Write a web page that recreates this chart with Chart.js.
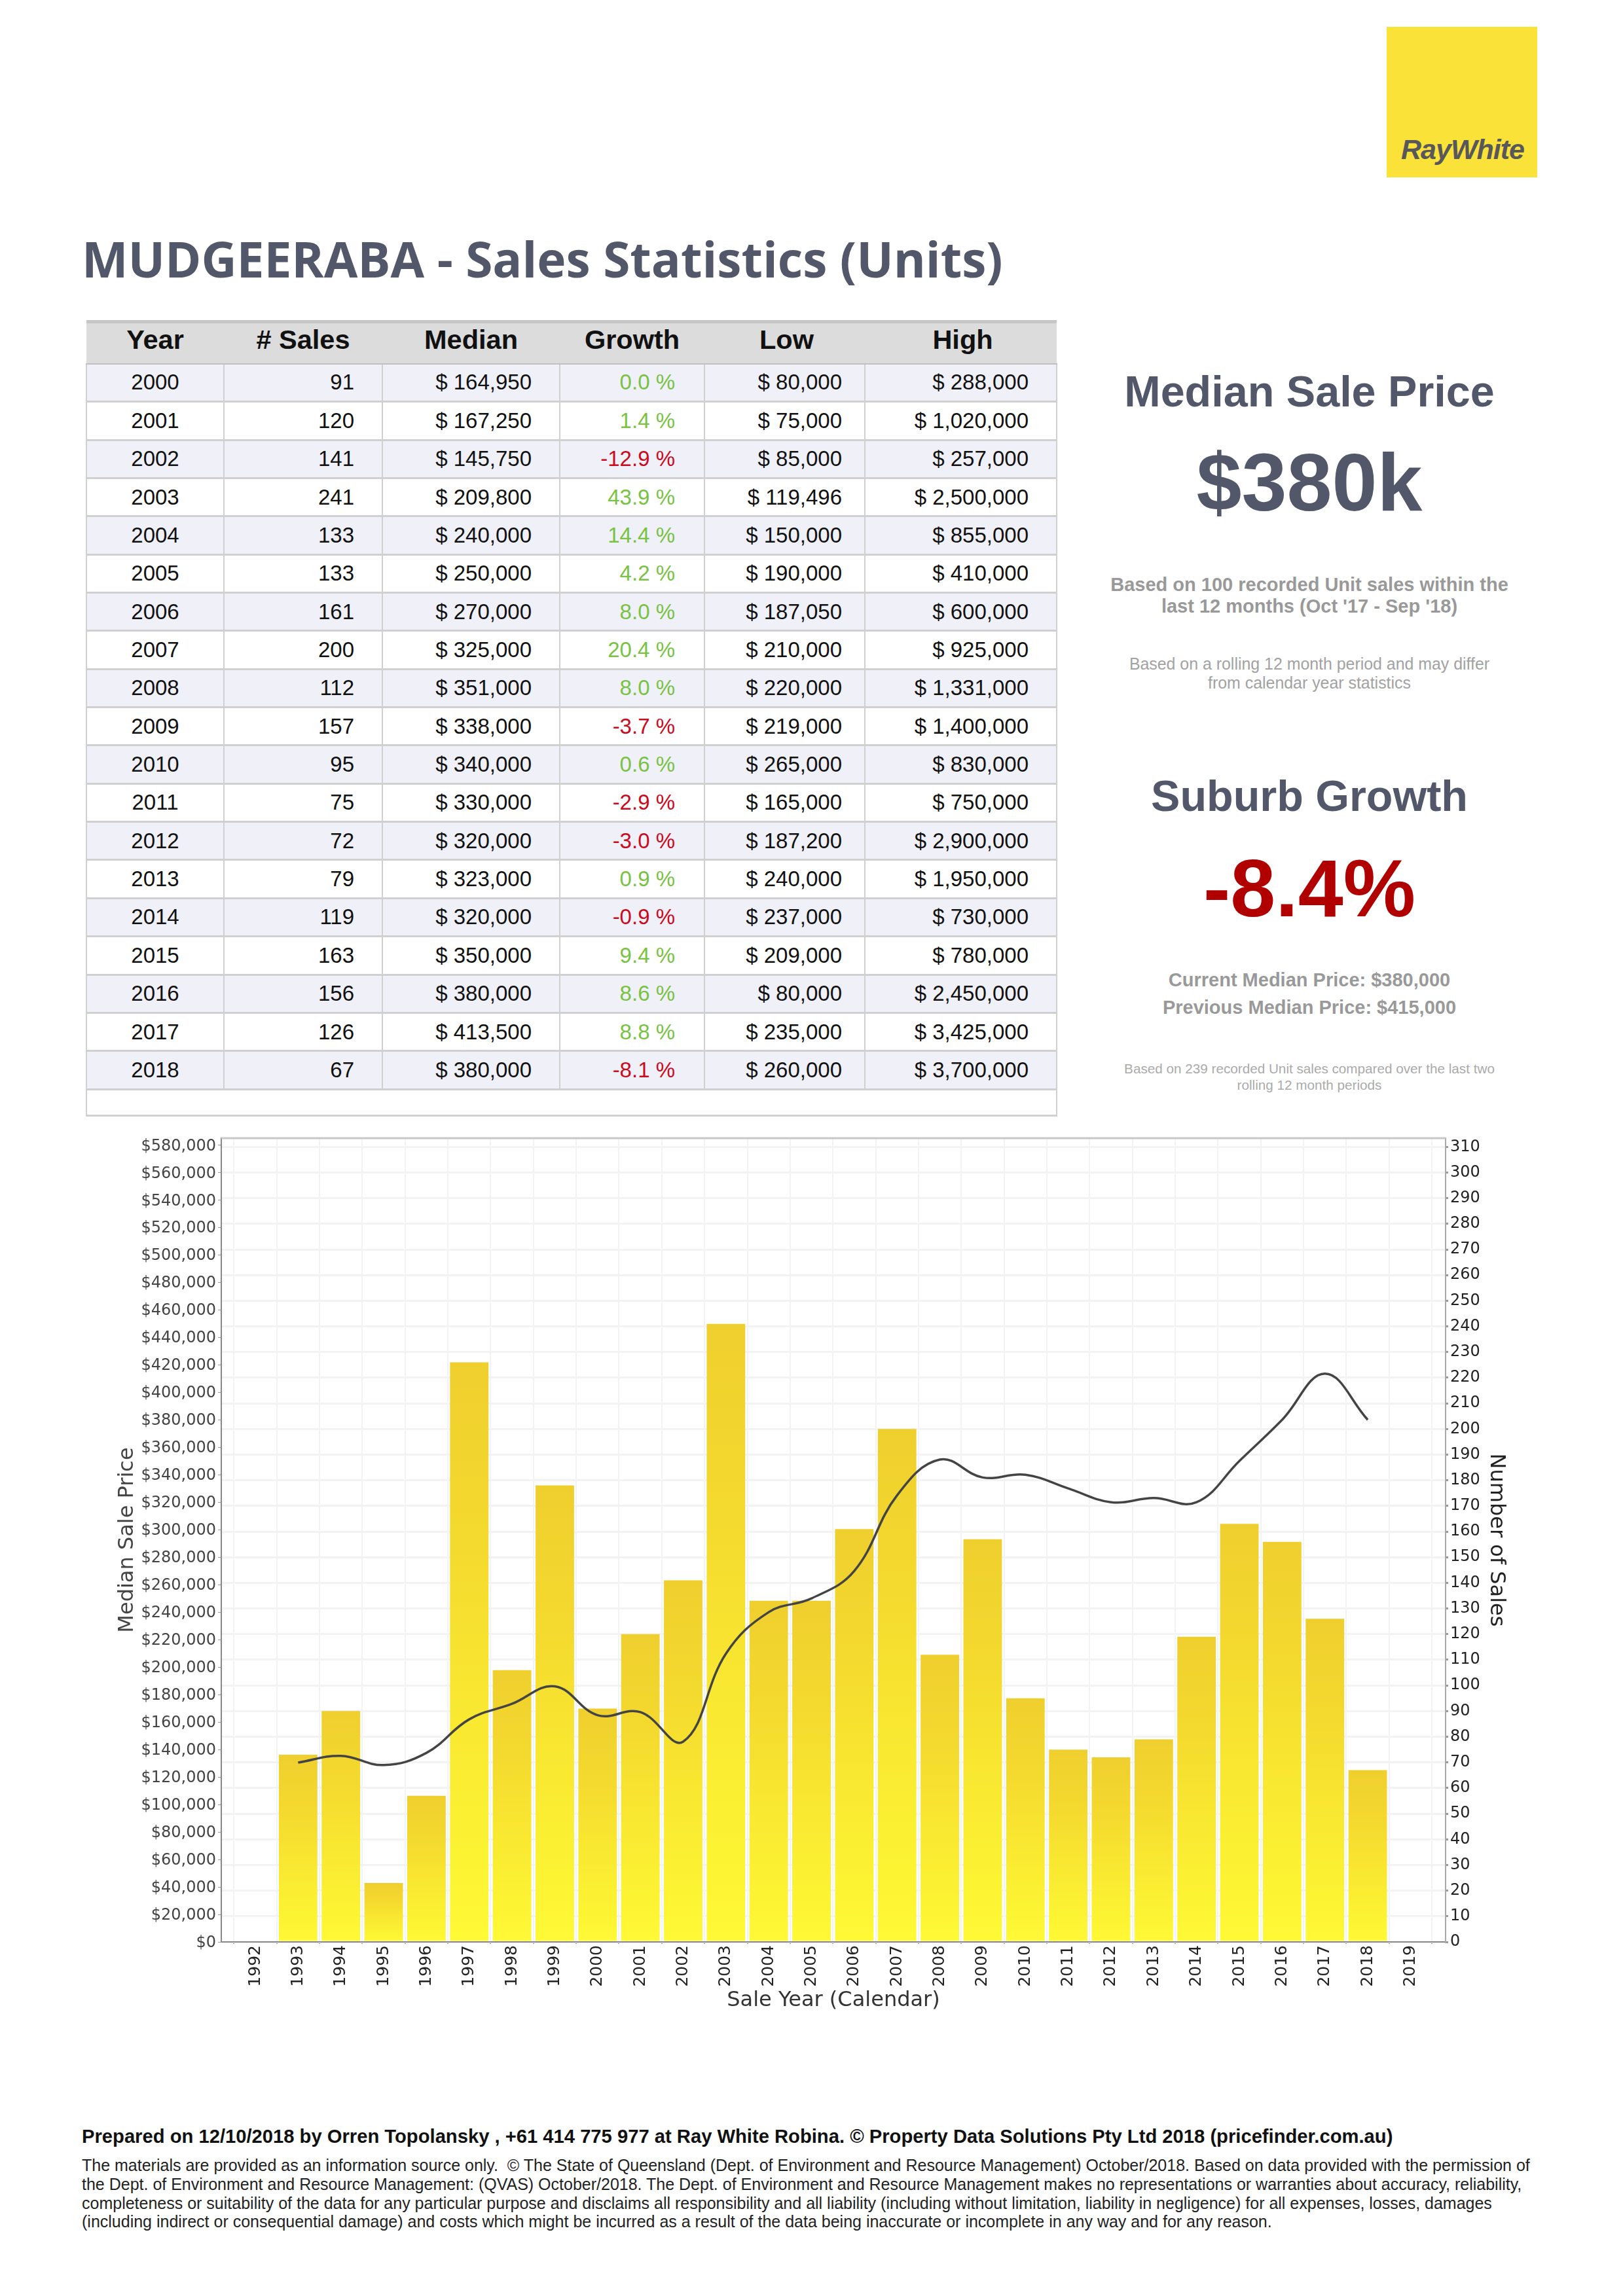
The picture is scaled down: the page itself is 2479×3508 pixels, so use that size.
<!DOCTYPE html>
<html>
<head>
<meta charset="utf-8">
<title>MUDGEERABA - Sales Statistics (Units)</title>
<script src="https://cdn.jsdelivr.net/npm/chart.js@4"></script>
<style>
  html, body { margin: 0; padding: 0; background: #fff; }
  #pagina { position: relative; width: 2479px; height: 3508px; overflow: hidden; font-family: "Liberation Sans", Arial, sans-serif; }
  .t { position: absolute; white-space: nowrap; line-height: 1; }
  .c { left: 2000px; transform: translate(-50%, -50%); }
  #logo { position: absolute; left: 2118px; top: 41px; width: 230px; height: 230px; background: #fae239; }
  #logo span { position: absolute; left: 22px; top: 163px; font: italic bold 43px "Liberation Sans"; color: #58585a; letter-spacing: -1px; white-space: nowrap; }
  #titulo { left: 125px; top: 344px; font: 700 74.8px "Open Sans"; color: #525769; }
  table { position: absolute; left: 131px; top: 489px; width: 1482px; border-collapse: collapse; table-layout: fixed; font-size: 33px; color: #111; }
  th { height: 64px; background: #dcdcdc; font-size: 41.5px; font-weight: bold; padding: 0 0 11px 0; border-top: 5px solid #c6c6c6; border-left: none; border-right: none; border-bottom: 2px solid #c0c0c0; box-sizing: border-box; }
  th.direita { padding-left: 6px; }
  td { height: 58.35px; padding: 0 42px 0 0; text-align: right; border: 2px solid #d0d0d0; border-bottom-width: 3px; box-sizing: border-box; }
  td.ano { text-align: center; padding: 0; }
  td.cresc { padding-right: 44px; }
  td.baixo { padding-right: 34px; }
  tr.par td { background: #f0f0f8; }
  tr.fim td { height: 40px; background: #fff; }
  canvas { position: absolute; left: 0; top: 1700px; }
</style>
</head>
<body>
<div id="pagina">
  <div id="logo"><span>RayWhite</span></div>
  <div class="t" id="titulo">MUDGEERABA - Sales Statistics (Units)</div>

  <table id="tabela"></table>

  <div class="t c" style="top:598px;font-size:66.5px;font-weight:bold;color:#525769">Median Sale Price</div>
  <div class="t c" style="top:737px;font-size:124px;font-weight:bold;color:#525769">$380k</div>
  <div class="t c" style="top:893px;font-size:29px;font-weight:bold;color:#999">Based on 100 recorded Unit sales within the</div>
  <div class="t c" style="top:926px;font-size:29px;font-weight:bold;color:#999">last 12 months (Oct '17 - Sep '18)</div>
  <div class="t c" style="top:1014px;font-size:24.9px;color:#a2a2a2">Based on a rolling 12 month period and may differ</div>
  <div class="t c" style="top:1043px;font-size:24.9px;color:#a2a2a2">from calendar year statistics</div>
  <div class="t c" style="top:1216px;font-size:66.5px;font-weight:bold;color:#525769">Suburb Growth</div>
  <div class="t c" style="top:1357px;font-size:124px;font-weight:bold;color:#b00000">-8.4%</div>
  <div class="t c" style="top:1497px;font-size:29px;font-weight:bold;color:#999">Current Median Price: $380,000</div>
  <div class="t c" style="top:1539px;font-size:29px;font-weight:bold;color:#999">Previous Median Price: $415,000</div>
  <div class="t c" style="top:1633px;font-size:20.7px;color:#aaa">Based on 239 recorded Unit sales compared over the last two</div>
  <div class="t c" style="top:1658px;font-size:20.7px;color:#aaa">rolling 12 month periods</div>

  <canvas id="grafico" width="2479" height="1400"></canvas>

  <div class="t" style="left:125px;top:3250px;font-size:29.2px;font-weight:bold;color:#111">Prepared on 12/10/2018 by Orren Topolansky , +61 414 775 977 at Ray White Robina. © Property Data Solutions Pty Ltd 2018 (pricefinder.com.au)</div>
  <div class="t" style="left:125px;top:3296px;font-size:25px;color:#222">The materials are provided as an information source only.&nbsp; © The State of Queensland (Dept. of Environment and Resource Management) October/2018. Based on data provided with the permission of</div>
  <div class="t" style="left:125px;top:3325px;font-size:25px;color:#222">the Dept. of Environment and Resource Management: (QVAS) October/2018. The Dept. of Environment and Resource Management makes no representations or warranties about accuracy, reliability,</div>
  <div class="t" style="left:125px;top:3354px;font-size:25px;color:#222">completeness or suitability of the data for any particular purpose and disclaims all responsibility and all liability (including without limitation, liability in negligence) for all expenses, losses, damages</div>
  <div class="t" style="left:125px;top:3382px;font-size:25px;color:#222">(including indirect or consequential damage) and costs which might be incurred as a result of the data being inaccurate or incomplete in any way and for any reason.</div>
</div>

<script>
// tabela
let anosTabela = [2000, 2001, 2002, 2003, 2004, 2005, 2006, 2007, 2008, 2009, 2010, 2011, 2012, 2013, 2014, 2015, 2016, 2017, 2018];
let vendasTabela = [91, 120, 141, 241, 133, 133, 161, 200, 112, 157, 95, 75, 72, 79, 119, 163, 156, 126, 67];
let medianaTabela = [164950, 167250, 145750, 209800, 240000, 250000, 270000, 325000, 351000, 338000, 340000, 330000, 320000, 323000, 320000, 350000, 380000, 413500, 380000];
let crescimento = [0.0, 1.4, -12.9, 43.9, 14.4, 4.2, 8.0, 20.4, 8.0, -3.7, 0.6, -2.9, -3.0, 0.9, -0.9, 9.4, 8.6, 8.8, -8.1];
let baixo = [80000, 75000, 85000, 119496, 150000, 190000, 187050, 210000, 220000, 219000, 265000, 165000, 187200, 240000, 237000, 209000, 80000, 235000, 260000];
let alto = [288000, 1020000, 257000, 2500000, 855000, 410000, 600000, 925000, 1331000, 1400000, 830000, 750000, 2900000, 1950000, 730000, 780000, 2450000, 3425000, 3700000];
let cabecalho = ["Year", "# Sales", "Median", "Growth", "Low", "High"];
let largurasColunas = [210, 242, 271, 221, 245, 293];

// grafico: 1992 a 2019
let anos = [1992, 1993, 1994, 1995, 1996, 1997, 1998, 1999, 2000, 2001, 2002, 2003, 2004, 2005, 2006, 2007, 2008, 2009, 2010, 2011, 2012, 2013, 2014, 2015, 2016, 2017, 2018, 2019];
let vendas = [null, 73, 90, 23, 57, 226, 106, 178, 91, 120, 141, 241, 133, 133, 161, 200, 112, 157, 95, 75, 72, 79, 119, 163, 156, 126, 67, null];
let mediana = [null, 130500, 135400, 128700, 137600, 162000, 173300, 186000, 164950, 167250, 145750, 209800, 240000, 250000, 270000, 325000, 351000, 338000, 340000, 330000, 320000, 323000, 320000, 350000, 380000, 413500, 380000, null];
let ticksPreco = [0, 20000, 40000, 60000, 80000, 100000, 120000, 140000, 160000, 180000, 200000, 220000, 240000, 260000, 280000, 300000, 320000, 340000, 360000, 380000, 400000, 420000, 440000, 460000, 480000, 500000, 520000, 540000, 560000, 580000];
let ticksVendas = [0, 10, 20, 30, 40, 50, 60, 70, 80, 90, 100, 110, 120, 130, 140, 150, 160, 170, 180, 190, 200, 210, 220, 230, 240, 250, 260, 270, 280, 290, 300, 310];

function dinheiro(v) {
  return "$ " + v.toLocaleString("en-US");
}

function montarTabela() {
  let html = "<colgroup>" + largurasColunas.map(l => `<col style="width:${l}px">`).join("") + "</colgroup>";
  html += "<tr>" + cabecalho.map((c, i) => `<th class="${i > 3 ? "direita" : ""}">${c}</th>`).join("") + "</tr>";
  anosTabela.forEach((ano, i) => {
    let cor = crescimento[i] < 0 ? "#cc0a1e" : "#79c244";
    html += `<tr class="${i % 2 === 0 ? "par" : ""}">
      <td class="ano">${ano}</td>
      <td>${vendasTabela[i]}</td>
      <td>${dinheiro(medianaTabela[i])}</td>
      <td class="cresc" style="color:${cor}">${crescimento[i].toFixed(1)} %</td>
      <td class="baixo">${dinheiro(baixo[i])}</td>
      <td>${dinheiro(alto[i])}</td>
    </tr>`;
  });
  html += '<tr class="fim"><td colspan="6"></td></tr>';
  document.getElementById("tabela").innerHTML = html;
}

// cada barra tem o seu proprio degrade
function degradeBarra(ctx) {
  if (ctx.type !== "data" || !ctx.parsed || ctx.parsed.y === null) return "#f3d92e";
  let escala = ctx.chart.scales.ySales;
  let g = ctx.chart.ctx.createLinearGradient(0, escala.getPixelForValue(ctx.parsed.y), 0, escala.getPixelForValue(0));
  g.addColorStop(0, "#efcf2e");
  g.addColorStop(0.3, "#f4d92e");
  g.addColorStop(0.6, "#f9e831");
  g.addColorStop(0.85, "#fcf333");
  g.addColorStop(1, "#fff936");
  return g;
}

let linhaTopo = {
  id: "linhaTopo",
  afterDraw(chart) {
    let a = chart.chartArea, c = chart.ctx;
    c.save();
    c.strokeStyle = "#c8c8c8";
    c.lineWidth = 3;
    c.beginPath();
    c.moveTo(a.left, a.top);
    c.lineTo(a.right, a.top);
    c.stroke();
    c.restore();
  }
};

function desenharGrafico() {
  new Chart(document.getElementById("grafico"), {
    data: {
      datasets: [
        {
          type: "line",
          label: "Median Sale Price",
          data: anos.map((a, i) => ({ x: a, y: mediana[i] })),
          yAxisID: "yPreco",
          borderColor: "#444",
          borderWidth: 3.5,
          pointRadius: 0,
          tension: 0.4,
          order: 0
        },
        {
          type: "bar",
          label: "Number of Sales",
          data: anos.map((a, i) => ({ x: a, y: vendas[i] })),
          yAxisID: "ySales",
          backgroundColor: degradeBarra,
          barPercentage: 0.9,
          categoryPercentage: 1,
          order: 1
        }
      ]
    },
    options: {
      responsive: false,
      devicePixelRatio: 1,
      animation: false,
      layout: { padding: { left: 175, right: 174, top: 39, bottom: 24 } },
      plugins: { legend: { display: false }, tooltip: { enabled: false } },
      scales: {
        x: {
          type: "linear",
          offset: false,
          min: 1991.204,
          max: 2019.82,
          afterBuildTicks: s => { s.ticks = anos.map(v => ({ value: v })); },
          afterFit: s => { s.height = 109; },
          grid: { color: "#f3f3f5", lineWidth: 2, tickColor: "#999", tickLength: 3 },
          border: { color: "#888", width: 2 },
          ticks: {
            autoSkip: false, minRotation: 90, maxRotation: 90, padding: 2,
            color: "#222", font: { family: "DejaVu Sans", size: 25 },
            callback: v => String(v)
          },
          title: { display: true, text: "Sale Year (Calendar)", color: "#333", font: { family: "DejaVu Sans", size: 32 }, padding: { top: 2, bottom: 0 } }
        },
        yPreco: {
          position: "left",
          min: 0,
          max: 584900,
          afterBuildTicks: s => { s.ticks = ticksPreco.map(v => ({ value: v })); },
          afterFit: s => { s.width = 163; },
          grid: { drawOnChartArea: false, tickColor: "#999", tickLength: 5 },
          border: { color: "#888", width: 2 },
          ticks: {
            autoSkip: false, padding: 3, labelOffset: 2, color: "#444", font: { family: "DejaVu Sans", size: 24 },
            callback: v => "$" + v.toLocaleString("en-US")
          },
          title: { display: true, text: "Median Sale Price", color: "#444", font: { family: "DejaVu Sans", size: 32 }, padding: { top: 0, bottom: 0 } }
        },
        ySales: {
          position: "right",
          min: 0,
          max: 313.4,
          afterBuildTicks: s => { s.ticks = ticksVendas.map(v => ({ value: v })); },
          afterFit: s => { s.width = 97; },
          grid: { color: "#f3f3f3", lineWidth: 3, tickColor: "#999", tickLength: 4 },
          border: { color: "#aaa", width: 2 },
          ticks: {
            autoSkip: false, padding: 3, color: "#222", font: { family: "DejaVu Sans", size: 24 }
          },
          title: { display: true, text: "Number of Sales", color: "#222", font: { family: "DejaVu Sans", size: 32 }, padding: { top: 0, bottom: 0 } }
        }
      }
    },
    plugins: [linhaTopo]
  });
}

montarTabela();
desenharGrafico();
</script>
</body>
</html>
